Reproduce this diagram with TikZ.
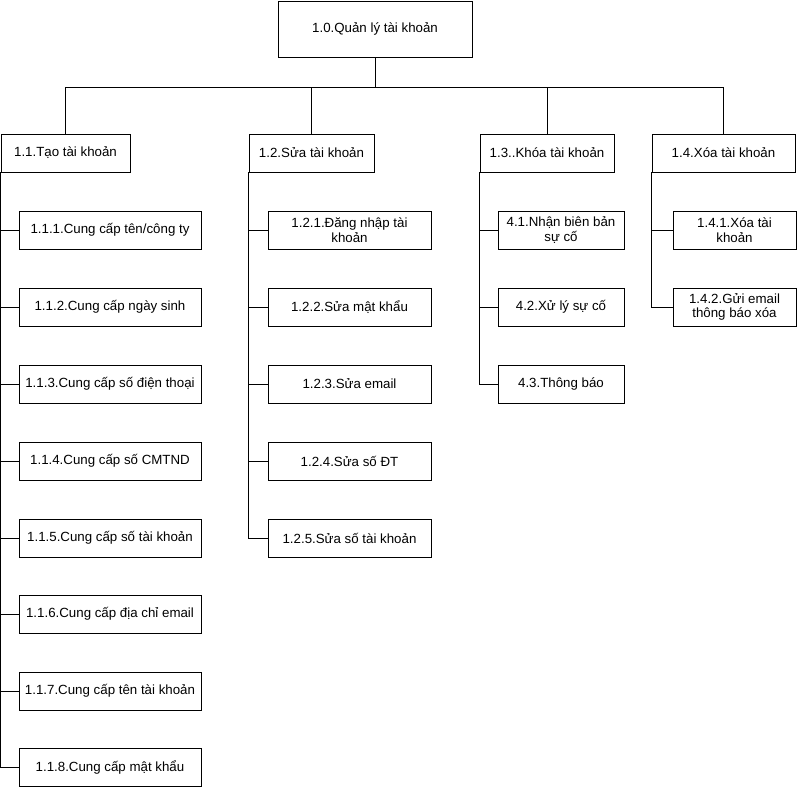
\documentclass[tikz,border=0pt]{standalone}
\usepackage{fontspec}
\setmainfont{Liberation Sans}
\begin{document}
\begin{tikzpicture}[x=1pt,y=-1pt,
  box/.style={draw,line width=0.8pt,minimum height=38pt,inner sep=1pt,align=center,
    font=\fontsize{13.3}{14.5}\selectfont},
  link/.style={line width=0.8pt}]
\useasboundingbox (0,0) rectangle (797,788);
% root
\node[box,minimum width=194pt,minimum height=56pt] (root) at (375,29) {1.0.Quản lý tài khoản};
\coordinate (bus) at (375,87);
% first level
\node[box,minimum width=129pt] (n11) at (65.5,153) {1.1.Tạo tài khoản};
\node[box,minimum width=125pt] (n12) at (311.5,153) {1.2.Sửa tài khoản};
\node[box,minimum width=134pt] (n13) at (547,153) {1.3..Khóa tài khoản};
\node[box,minimum width=143pt] (n14) at (723.5,153) {1.4.Xóa tài khoản};
% 1.1 children
\node[box,minimum width=182pt] (n111) at (110,230) {1.1.1.Cung cấp tên/công ty};
\node[box,minimum width=182pt] (n112) at (110,307) {1.1.2.Cung cấp ngày sinh};
\node[box,minimum width=182pt] (n113) at (110,384) {1.1.3.Cung cấp số điện thoại};
\node[box,minimum width=182pt] (n114) at (110,461) {1.1.4.Cung cấp số CMTND};
\node[box,minimum width=182pt] (n115) at (110,538) {1.1.5.Cung cấp số tài khoản};
\node[box,minimum width=182pt] (n116) at (110,614) {1.1.6.Cung cấp địa chỉ email};
\node[box,minimum width=182pt] (n117) at (110,691) {1.1.7.Cung cấp tên tài khoản};
\node[box,minimum width=182pt] (n118) at (110,767.5) {1.1.8.Cung cấp mật khẩu};
% 1.2 children
\node[box,minimum width=163pt] (n121) at (349.5,230) {1.2.1.Đăng nhập tài\\khoản};
\node[box,minimum width=163pt] (n122) at (349.5,307) {1.2.2.Sửa mật khẩu};
\node[box,minimum width=163pt] (n123) at (349.5,384) {1.2.3.Sửa email};
\node[box,minimum width=163pt] (n124) at (349.5,461) {1.2.4.Sửa số ĐT};
\node[box,minimum width=163pt] (n125) at (349.5,538) {1.2.5.Sửa số tài khoản};
% 1.3 children
\node[box,minimum width=126pt] (n131) at (561,230) {4.1.Nhận biên bản\\sự cố};
\node[box,minimum width=126pt] (n132) at (561,307) {4.2.Xử lý sự cố};
\node[box,minimum width=126pt] (n133) at (561,384) {4.3.Thông báo};
% 1.4 children
\node[box,minimum width=123pt] (n141) at (734.5,230) {1.4.1.Xóa tài\\khoản};
\node[box,minimum width=123pt] (n142) at (734.5,307) {1.4.2.Gửi email\\thông báo xóa};
% root to first level
\draw[link] (root.south) -- (bus);
\draw[link] (n11.north) -- (n11.north |- bus) -- (n14.north |- bus) -- (n14.north);
\draw[link] (n12.north) -- (n12.north |- bus);
\draw[link] (n13.north) -- (n13.north |- bus);
% spines to children
\foreach \c in {n111,n112,n113,n114,n115,n116,n117,n118}
  \draw[link] (n11.south west) |- (\c.west);
\foreach \c in {n121,n122,n123,n124,n125}
  \draw[link] (n12.south west) |- (\c.west);
\foreach \c in {n131,n132,n133}
  \draw[link] (n13.south west) |- (\c.west);
\foreach \c in {n141,n142}
  \draw[link] (n14.south west) |- (\c.west);
\end{tikzpicture}
\end{document}
